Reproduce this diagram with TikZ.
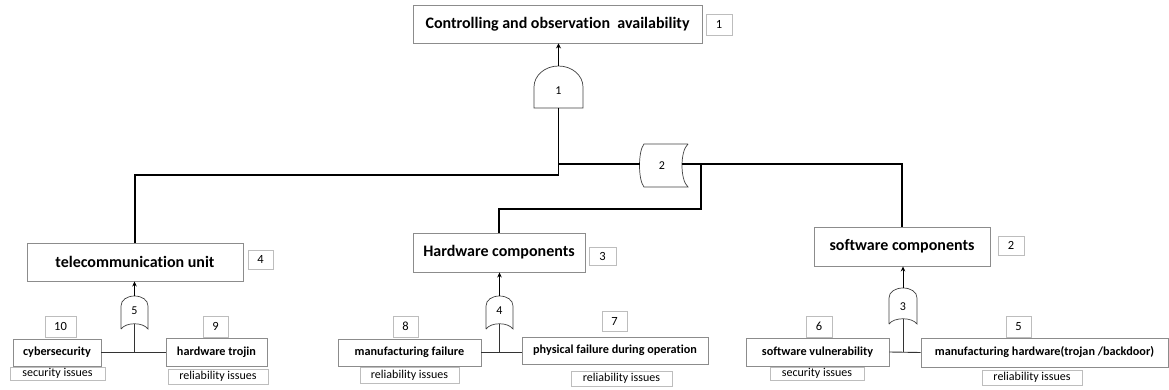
\documentclass[tikz,border=0pt]{standalone}
\usepackage{fontspec}
\setmainfont{Carlito}[Ligatures=NoCommon]
\usetikzlibrary{arrows.meta}
\definecolor{boxgray}{HTML}{8C8C8C}
\definecolor{lgray}{HTML}{BDBDBD}
\begin{document}
\begin{tikzpicture}[x=1pt,y=-1pt,
  bigbox/.style={draw=boxgray, line width=0.9pt, inner sep=0pt, font=\fontsize{16}{18}\selectfont\bfseries},
  smallbox/.style={draw=boxgray, line width=0.9pt, inner sep=0pt, font=\fontsize{12.2}{14}\selectfont\bfseries},
  numbox/.style={draw=lgray, line width=0.7pt, inner sep=0pt, font=\fontsize{12.5}{14}\selectfont},
  issuebox/.style={draw=lgray, line width=0.7pt, inner sep=0pt, font=\fontsize{12}{14}\selectfont},
  gateshape/.style={draw=black!75, line width=0.7pt},
  gatelabel/.style={inner sep=0pt, font=\fontsize{12}{14}\selectfont},
  conn/.style={line width=1.3pt, black},
  thinconn/.style={line width=0.9pt, black!80},
  arr/.style={-{Stealth[length=5pt,width=4.5pt]}, line width=1pt, black},
  toparr/.style={-{Stealth[length=5pt,width=5pt]}, line width=1.6pt, black}]
\useasboundingbox (0,0) rectangle (1169,390);

% ---- main boxes ----
\node[bigbox, minimum width=289pt, minimum height=38pt] (top) at (557.5,24) {Controlling and observation\ \ availability};
\node[numbox, minimum width=26pt, minimum height=21pt] (n1) at (719,24.5) {1};

\node[bigbox, minimum width=216pt, minimum height=38pt] (tel) at (135,262) {telecommunication unit};
\node[numbox, minimum width=25pt, minimum height=19pt] (n4) at (260.5,259.5) {4};

\node[bigbox, minimum width=172pt, minimum height=39pt] (hw) at (499,252.5) {Hardware components};
\node[numbox, minimum width=27pt, minimum height=18pt] (n3) at (602.5,256) {3};

\node[bigbox, minimum width=176pt, minimum height=39pt] (sw) at (902,246.5) {software components};
\node[numbox, minimum width=26pt, minimum height=19pt] (n2) at (1011,245.5) {2};

% ---- leaf boxes ----
\node[smallbox, minimum width=88pt, minimum height=27pt] (cyber) at (57,352.5) {cybersecurity};
\node[numbox, minimum width=31pt, minimum height=21pt] (n10) at (60.5,326.5) {10};
\node[issuebox, minimum width=95pt, minimum height=13pt] (sec1) at (57.5,373.5) {security issues};

\node[smallbox, minimum width=101pt, minimum height=28pt] (troj) at (216.5,352.5) {hardware trojin};
\node[numbox, minimum width=25pt, minimum height=21pt] (n9) at (215.5,326.5) {9};
\node[issuebox, minimum width=100pt, minimum height=15pt] (rel1) at (218,376.5) {reliability issues};

\node[smallbox, minimum width=143pt, minimum height=27pt] (mfail) at (409.5,352.5) {manufacturing failure};
\node[numbox, minimum width=25pt, minimum height=21pt] (n8) at (405.5,326.5) {8};
\node[issuebox, minimum width=99pt, minimum height=16pt] (rel2) at (409.5,375) {reliability issues};

\node[smallbox, minimum width=186pt, minimum height=27pt] (phys) at (615,350.5) {physical failure during operation};
\node[numbox, minimum width=25pt, minimum height=20pt] (n7) at (614.5,321) {7};
\node[issuebox, minimum width=101pt, minimum height=15pt] (rel3) at (621.5,378.5) {reliability issues};

\node[smallbox, minimum width=143pt, minimum height=28pt] (swv) at (817.5,352) {software vulnerability};
\node[numbox, minimum width=26pt, minimum height=21pt] (n6) at (819,326.5) {6};
\node[issuebox, minimum width=94pt, minimum height=13pt] (sec2) at (817,373.5) {security issues};

\node[smallbox, minimum width=247pt, minimum height=29pt] (mhw) at (1044.5,352.5) {manufacturing hardware(trojan /backdoor)};
\node[numbox, minimum width=25pt, minimum height=21pt] (n5) at (1018.5,326.5) {5};
\node[issuebox, minimum width=100pt, minimum height=15pt] (rel4) at (1032,377.5) {reliability issues};

% ---- gate 1 (AND) ----
\draw[gateshape] (534,108) -- (534,87) .. controls (534,75.4) and (545,66) .. (558.5,66)
  .. controls (572,66) and (583,75.4) .. (583,87) -- (583,108) -- cycle;
\node[gatelabel] (g1) at (558.5,91) {1};
\coordinate (g1out) at (558.5,66);
\coordinate (g1in) at (558.5,108);

% ---- gate 2 (OR, horizontal) ----
\draw[gateshape] (688,144) -- (644,144) .. controls (638,151) and (638,180) .. (644,187)
  -- (688,187) .. controls (680,180) and (680,151) .. (688,144);
\node[gatelabel] (g2) at (662,166) {2};
\coordinate (g2l) at (640,164);
\coordinate (g2r) at (681.5,164);

% ---- small OR gates ----
% gate 5
\draw[gateshape] (121,329) -- (121,306) .. controls (121,300) and (127,296) .. (134.5,296)
  .. controls (142,296) and (148,300) .. (148,306) -- (148,329)
  .. controls (143,322) and (126,322) .. (121,329);
\node[gatelabel] (g5) at (134.5,311) {5};
\coordinate (g5out) at (134.5,296);
\coordinate (g5in) at (134.5,324);
% gate 4
\draw[gateshape] (486,329) -- (486,306) .. controls (486,300) and (492,296) .. (499.5,296)
  .. controls (507,296) and (513,300) .. (513,306) -- (513,329)
  .. controls (508,322) and (491,322) .. (486,329);
\node[gatelabel] (g4) at (499.5,311) {4};
\coordinate (g4out) at (499.5,296);
\coordinate (g4in) at (499.5,324);
% gate 3
\draw[gateshape] (889,324) -- (889,298) .. controls (889,292) and (895,288) .. (903,288)
  .. controls (911,288) and (917,292) .. (917,298) -- (917,324)
  .. controls (912,317) and (894,317) .. (889,324);
\node[gatelabel] (g3) at (903,307) {3};
\coordinate (g3out) at (903,288);
\coordinate (g3in) at (903,319);

% ---- connectors (upper tree) ----
\draw[toparr] (g1out) -- (top.south -| g1out);
\coordinate (j1) at (558.5,175);
\coordinate (j2) at (558.5,164);
\draw[conn] (g1in) -- (j1) -- (j1 -| tel.north) -- (tel.north);
\draw[conn] (j2) -- (g2l);
\coordinate (j3) at (701,164);
\coordinate (j4) at (701,209);
\draw[conn] (g2r) -- (g2r -| sw.north) -- (sw.north);
\draw[conn] (j3) -- (j4) -- (j4 -| hw.north) -- (hw.north);

% ---- connectors (lower) ----
\draw[arr] (g5out) -- (tel.south -| g5out);
\draw[thinconn] (cyber.east) -- (troj.west);
\draw[thinconn] (g5in) -- (g5in |- cyber.east);

\draw[arr] (g4out) -- (hw.south -| g4out);
\draw[thinconn] (mfail.east) -- (phys.west |- mfail.east);
\draw[thinconn] (g4in) -- (g4in |- mfail.east);

\draw[arr] (g3out) -- (sw.south -| g3out);
\draw[thinconn] (swv.east) -- (mhw.west);
\draw[thinconn] (g3in) -- (g3in |- swv.east);
\end{tikzpicture}
\end{document}
